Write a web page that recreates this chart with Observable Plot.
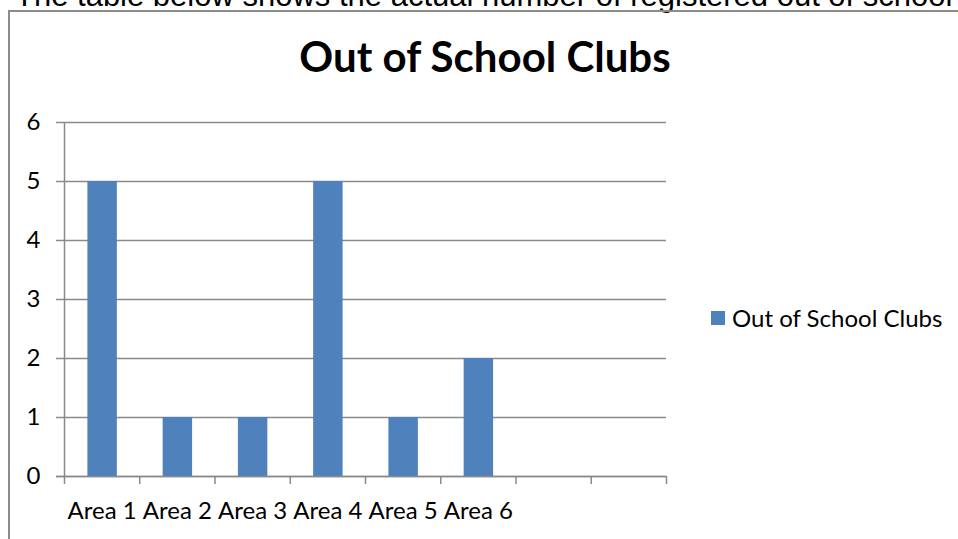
<!DOCTYPE html>
<html>
<head>
<meta charset="utf-8">
<script src="https://cdn.jsdelivr.net/npm/d3@7"></script>
<script src="https://cdn.jsdelivr.net/npm/@observablehq/plot@0.6"></script>
<style>
  html, body { margin: 0; padding: 0; background: #fff; }
  body { width: 958px; height: 539px; overflow: hidden; position: relative; font-family: Lato, "Open Sans", sans-serif; }
  #intro { position: absolute; left: 15px; top: -20px; font: 31px/31px "Liberation Sans", Arial, sans-serif; color: #000; white-space: nowrap; }
  #box { position: absolute; left: 8px; top: 10px; width: 970px; height: 560px; border: 2px solid #8c8c8c; box-sizing: border-box; }
  #title { position: absolute; left: 235px; width: 500px; top: 32px; text-align: center; font: bold 42px/48px Lato, sans-serif; color: #000; white-space: nowrap; }
  #chart { position: absolute; left: 0; top: 100px; }
  #legend { position: absolute; left: 711px; top: 303px; display: flex; align-items: center; font: 24px/30px Lato, sans-serif; color: #000; white-space: nowrap; }
  #legend .sw { width: 14px; height: 14px; background: #4F81BD; margin-right: 7px; }
</style>
</head>
<body>
<div id="intro">The table below shows the actual number of registered out of school clubs in each area.</div>
<div id="box"></div>
<div id="title">Out of School Clubs</div>
<div id="chart"></div>
<div id="legend"><div class="sw"></div><span>Out of School Clubs</span></div>
<script>
const categories = ["Area 1", "Area 2", "Area 3", "Area 4", "Area 5", "Area 6", "", ""];
const values = [5, 1, 1, 5, 1, 2];
const yTicks = [0, 1, 2, 3, 4, 5, 6];
const seriesName = "Out of School Clubs";

const data = values.map((v, i) => ({category: categories[i], index: i, value: v}));
const labels = categories.map((c, i) => ({category: c, index: i}));
const boundaries = d3.range(categories.length + 1);

const grid = "#8a8a8a";
const plot = Plot.plot({
  width: 700,
  height: 440,
  marginLeft: 64,
  marginRight: 34,
  marginTop: 22,
  marginBottom: 64,
  style: {fontFamily: "Lato, sans-serif", fontSize: "24px", color: "#000", background: "transparent", overflow: "visible"},
  x: {type: "linear", domain: [0, categories.length], axis: null},
  y: {domain: [0, 6], axis: null},
  marks: [
    Plot.gridY(yTicks, {stroke: grid, strokeOpacity: 1, strokeWidth: 1.5}),
    Plot.rectY(data, {x1: "index", x2: d => d.index + 1, y: "value", fill: "#4F81BD", insetLeft: 23.4, insetRight: 22.4}),
    Plot.axisY(yTicks, {tickSize: 8, tickPadding: 16, tickFormat: d3.format("d"), stroke: grid, strokeWidth: 1.5, fill: "#000", label: null, fontSize: 24}),
    Plot.ruleX([0], {stroke: grid, strokeWidth: 1.5}),
    Plot.ruleY([0], {stroke: grid, strokeWidth: 1.5, x1: 0, x2: categories.length, insetLeft: -8}),
    Plot.axisX(boundaries, {tickSize: 8, tickFormat: () => "", stroke: grid, strokeWidth: 1.5, label: null}),
    Plot.text(labels, {x: d => d.index + 0.5, y: 0, dy: 35, text: "category", fontSize: 24, fill: "#000"})
  ]
});
document.getElementById("chart").appendChild(plot);
</script>
</body>
</html>
